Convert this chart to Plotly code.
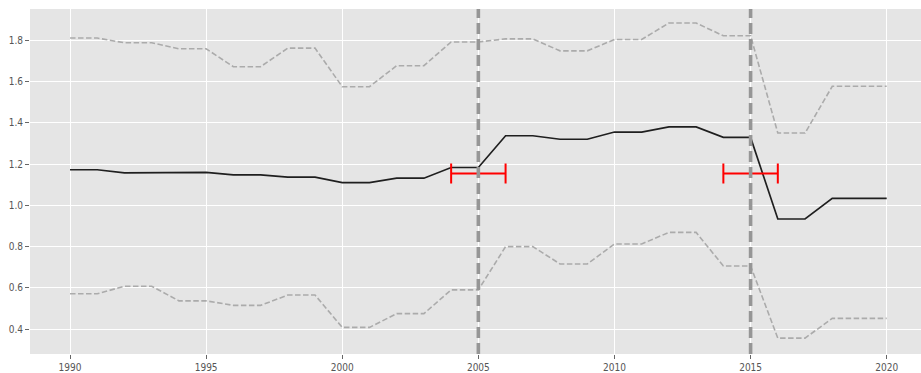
import plotly.graph_objects as go

years = list(range(1990, 2021))

mean_vals = [1.173, 1.173, 1.158, 1.158, 1.160, 1.160, 1.148, 1.148, 1.137, 1.137,
             1.111, 1.111, 1.132, 1.132, 1.184, 1.184, 1.338, 1.338, 1.321, 1.321,
             1.356, 1.356, 1.381, 1.381, 1.330, 1.330, 0.934, 0.934, 1.034, 1.034, 1.034]

upper_vals = [1.812, 1.812, 1.789, 1.789, 1.760, 1.760, 1.673, 1.673, 1.763, 1.763,
              1.576, 1.576, 1.678, 1.678, 1.793, 1.793, 1.808, 1.808, 1.750, 1.750,
              1.805, 1.805, 1.885, 1.885, 1.823, 1.823, 1.351, 1.351, 1.578, 1.578, 1.578]

lower_vals = [0.571, 0.571, 0.608, 0.608, 0.537, 0.537, 0.515, 0.515, 0.565, 0.565,
              0.408, 0.408, 0.475, 0.475, 0.590, 0.590, 0.800, 0.800, 0.716, 0.716,
              0.813, 0.813, 0.869, 0.869, 0.706, 0.706, 0.356, 0.356, 0.452, 0.452, 0.452]

break_years = [2005, 2015]
window_half = [1, 1]
window_level = [1.155, 1.155]

x_ticks = [1990, 1995, 2000, 2005, 2010, 2015, 2020]
y_ticks = [0.4, 0.6, 0.8, 1.0, 1.2, 1.4, 1.6, 1.8]

fig = go.Figure()

for band in (upper_vals, lower_vals):
    fig.add_trace(go.Scatter(
        x=years, y=band, mode="lines",
        line=dict(color="#ababab", width=1.6, dash="5.5px,2.5px"),
        hoverinfo="skip", showlegend=False,
    ))

fig.add_trace(go.Scatter(
    x=years, y=mean_vals, mode="lines",
    line=dict(color="#1f1f1f", width=1.7),
    showlegend=False,
))

for by in break_years:
    fig.add_vline(x=by, line=dict(color="#969696", width=3.6, dash="11px,5px"), layer="above")

fig.add_trace(go.Scatter(
    x=break_years, y=window_level, mode="markers",
    marker=dict(size=0.1, color="red", opacity=0),
    error_x=dict(type="data", array=window_half, color="red", thickness=2, width=10),
    showlegend=False,
))

axis_common = dict(
    showgrid=True, gridcolor="white", gridwidth=1.2,
    zeroline=False, showline=False,
    ticks="outside", ticklen=4, tickwidth=1, tickcolor="#666",
    tickfont=dict(family="DejaVu Sans Condensed, DejaVu Sans", size=10, color="#555"),
)

fig.update_layout(
    width=921, height=373,
    margin=dict(l=30, r=0, t=9, b=17),
    paper_bgcolor="white", plot_bgcolor="#e5e5e5",
    xaxis=dict(range=[1988.53, 2021.26], tickvals=x_ticks,
               ticktext=[str(v) for v in x_ticks], **axis_common),
    yaxis=dict(range=[0.279, 1.953], tickvals=y_ticks,
               ticktext=[f"{v:.1f}" for v in y_ticks], **axis_common),
)

fig.write_html("out.html")
